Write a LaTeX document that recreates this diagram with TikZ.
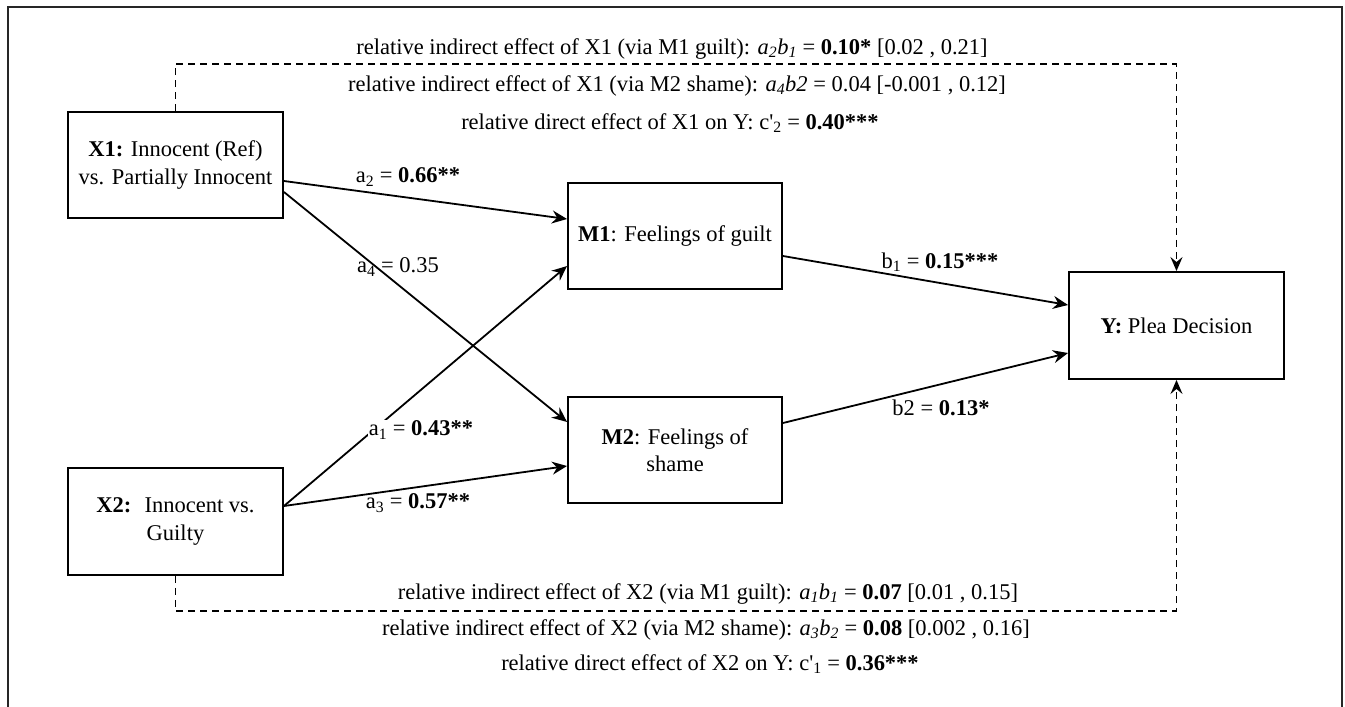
\documentclass[tikz,border=0pt]{standalone}
\usepackage{fontspec}
\setmainfont{Liberation Serif}
\usetikzlibrary{arrows.meta,calc}
\newcommand\mysize{\fontsize{22.5}{27.5}\selectfont}
\begin{document}
\begin{tikzpicture}[x=1pt,y=-1pt,
  var/.style={draw, line width=1.9pt, minimum width=215pt, minimum height=106pt, inner sep=0pt, align=center, font=\mysize},
  arr/.style={line width=1.8pt, -{Stealth[length=15pt,width=13pt,inset=5pt]}},
  dl/.style={line width=1.7pt, dash pattern=on 7pt off 5pt, -{Stealth[length=14pt,width=12pt,inset=5pt]}},
  lab/.style={font=\mysize, inner sep=1pt},
  ann/.style={font=\mysize, inner sep=0pt}]
\useasboundingbox (0,0) rectangle (1345,707);
\draw[line width=1.6pt, black!85] (8,720) -- (8,7) -- (1342,7) -- (1342,720);

\node[var] (X1) at (175.5,165) {\textbf{X1:} Innocent (Ref)\\vs. Partially Innocent};
\node[var, minimum height=107pt] (X2) at (175.5,521.5) {\textbf{X2:}~ Innocent vs.\\Guilty};
\node[var, minimum width=214pt] (M1) at (675,236) {\textbf{M1}: Feelings of guilt};
\node[var, minimum width=214pt] (M2) at (675,450) {\textbf{M2}: Feelings of\\shame};
\node[var, minimum height=107pt] (Y) at (1176.5,325.5) {\textbf{Y:} Plea Decision};

\coordinate (tr) at (1176.5,64);
\coordinate (br) at (1176.5,611);

\draw[arr] ([yshift=-16pt]X1.east) -- ([yshift=17pt]M1.west);
\draw[arr] ([yshift=-27pt]X1.east) -- ([yshift=28pt]M2.west);
\draw[arr] ([yshift=15.5pt]X2.east) -- ([yshift=-30pt]M1.west);
\draw[arr] ([yshift=15.5pt]X2.east) -- ([yshift=-16pt]M2.west);
\draw[arr] ([yshift=-20pt]M1.east) -- ([yshift=20.5pt]Y.west);
\draw[arr] ([yshift=27pt]M2.east) -- ([yshift=-27.5pt]Y.west);

\draw[dl] (X1.north) -- (X1.north |- tr) -- (tr) -- (Y.north);
\draw[dl] (X2.south) -- (X2.south |- br) -- (br) -- (Y.south);

\node[lab] (la2) at (408,177) {a\textsubscript{2} = \textbf{0.66**}};
\node[lab] (la4) at (398,267) {a\textsubscript{4} = 0.35};
\node[lab, fill=white] (la1) at (421,430) {a\textsubscript{1} = \textbf{0.43**}};
\node[lab] (la3) at (418,503) {a\textsubscript{3} = \textbf{0.57**}};
\node[lab] (lb1) at (940,262) {b\textsubscript{1} = \textbf{0.15***}};
\node[lab] (lb2) at (941,408) {b2 = \textbf{0.13*}};

\node[ann] (t1) at (672,49) {relative indirect effect of X1 (via M1 guilt): \textit{a\textsubscript{2}b\textsubscript{1}} = \textbf{0.10*} [0.02 , 0.21]};
\node[ann] (t2) at (677,86) {relative indirect effect of X1 (via M2 shame): \textit{a\textsubscript{4}b2} = 0.04 [-0.001 , 0.12]};
\node[ann] (t3) at (670,123) {relative direct effect of X1 on Y: c\textquotesingle\textsubscript{2} = \textbf{0.40***}};

\node[ann] (b1t) at (708,594) {relative indirect effect of X2 (via M1 guilt): \textit{a\textsubscript{1}b\textsubscript{1}} = \textbf{0.07} [0.01 , 0.15]};
\node[ann] (b2t) at (706,630) {relative indirect effect of X2 (via M2 shame): \textit{a\textsubscript{3}b\textsubscript{2}} = \textbf{0.08} [0.002 , 0.16]};
\node[ann] (b3t) at (710,664) {relative direct effect of X2 on Y: c\textquotesingle\textsubscript{1} = \textbf{0.36***}};
\end{tikzpicture}
\end{document}
